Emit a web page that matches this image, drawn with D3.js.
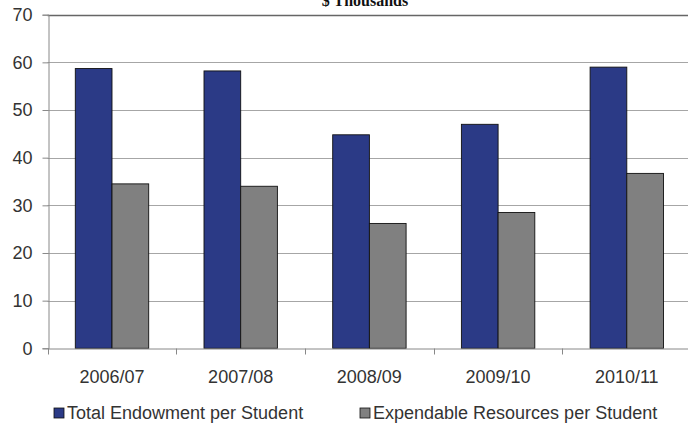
<!DOCTYPE html>
<html><head><meta charset="utf-8">
<script src="https://cdn.jsdelivr.net/npm/d3@7"></script>
<style>
html,body{margin:0;padding:0;background:#fff;}
svg{display:block;}
text{font-family:"Liberation Sans Narrow","Liberation Sans",sans-serif;fill:#333;}
</style></head>
<body>
<script>
const categories = ["2006/07","2007/08","2008/09","2009/10","2010/11"];
const seriesNames = ["Total Endowment per Student","Expendable Resources per Student"];
const endowment = [58.7, 58.2, 44.8, 47.0, 59.0];
const expendable = [34.5, 34.0, 26.2, 28.5, 36.7];
const yTicks = [0,10,20,30,40,50,60,70];
const colors = ["#2B3A86","#808080"];
const title = "$ Thousands";

const W = 688, H = 429;
const svg = d3.select("body").append("svg").attr("width", W).attr("height", H);

const x0 = 47.6, bandStep = 128.7;
const x = d3.scaleBand().domain(categories).range([x0, x0 + bandStep*categories.length]).paddingInner(0).paddingOuter(0);
const x1 = d3.scaleBand().domain([0,1]).range([27.7, 27.7 + 73.4]);
const y = d3.scaleLinear().domain([0,70]).range([348.3, 14.7]);

// gridlines
svg.append("g").selectAll("line").data(yTicks.filter(d => d > 0)).join("line")
  .attr("x1", x0).attr("x2", W)
  .attr("y1", d => Math.round(y(d)) + 0.5).attr("y2", d => Math.round(y(d)) + 0.5)
  .attr("stroke", d => d === 70 ? "#666" : "#a6a6a6")
  .attr("stroke-width", d => d === 70 ? 1.5 : 1);

// bars
const data = categories.map((c,i) => ({c, v:[endowment[i], expendable[i]]}));
const groups = svg.append("g").selectAll("g").data(data).join("g")
  .attr("transform", d => `translate(${x(d.c)},0)`);
groups.selectAll("rect").data(d => d.v.map((v,j) => ({v,j}))).join("rect")
  .attr("x", d => x1(d.j)).attr("width", x1.bandwidth())
  .attr("y", d => y(d.v)).attr("height", d => y(0) - y(d.v))
  .attr("fill", d => colors[d.j]).attr("stroke", "#111").attr("stroke-width", 0.9);

// y axis
const yAxis = d3.axisLeft(y).tickValues(yTicks).tickSize(6).tickPadding(10);
const gy = svg.append("g").attr("transform", `translate(${Math.round(x0)+0.5},0)`).call(yAxis);
gy.select(".domain").attr("stroke", "#888");
gy.selectAll(".tick line").attr("stroke", "#888");
gy.selectAll(".tick text").attr("font-size", 18).attr("fill", "#333")
  .attr("font-family", '"Liberation Sans Narrow","Liberation Sans",sans-serif');

// x axis
const xAxis = d3.axisBottom(x).tickSize(0).tickPadding(22);
const gx = svg.append("g").attr("transform", `translate(0,${Math.round(y(0))+0.5})`).call(xAxis);
gx.select(".domain").attr("stroke", "#888");
gx.selectAll(".tick text").attr("font-size", 18).attr("fill", "#333")
  .attr("font-family", '"Liberation Sans Narrow","Liberation Sans",sans-serif');
// category separator ticks
gx.append("g").selectAll("line").data(d3.range(categories.length+1)).join("line")
  .attr("x1", i => Math.round(x0 + i*bandStep)+0.5).attr("x2", i => Math.round(x0 + i*bandStep)+0.5)
  .attr("y1", 0).attr("y2", 6).attr("stroke", "#888");

// title (partly cut off at top, as in the reference)
svg.append("text").attr("x", 365).attr("y", 6).attr("text-anchor", "middle")
  .style("font-family", '"Liberation Serif","Times New Roman",serif').style("font-weight", "bold")
  .attr("font-size", 16).style("fill", "#111").text(title);

// legend
const legendX = [54, 360];
const lg = svg.append("g").selectAll("g").data(seriesNames).join("g")
  .attr("transform", (d,i) => `translate(${legendX[i]},408)`);
lg.append("rect").attr("width", 10).attr("height", 10).attr("fill", (d,i) => colors[i])
  .attr("stroke", "#111").attr("stroke-width", 0.8);
lg.append("text").attr("x", 13).attr("y", 11).attr("font-size", 18).text(d => d);
</script>
</body></html>
